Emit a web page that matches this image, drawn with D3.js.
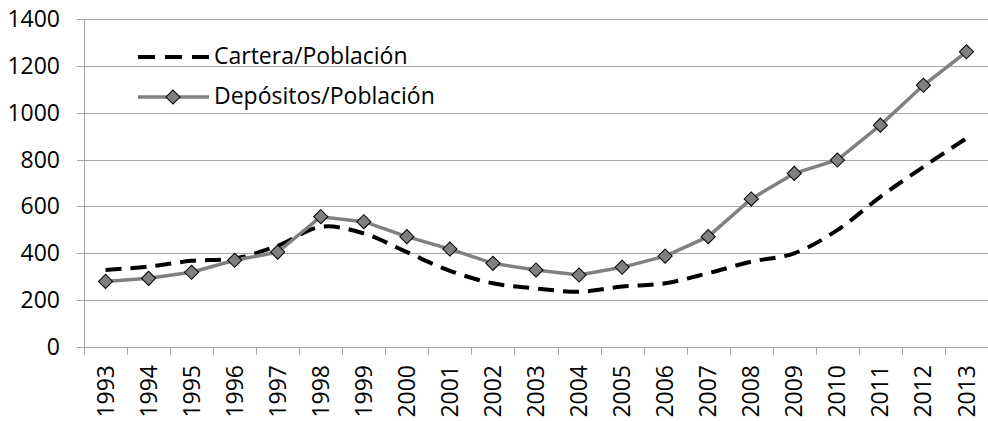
<!DOCTYPE html>
<html>
<head>
<meta charset="utf-8">
<script src="https://cdn.jsdelivr.net/npm/d3@7"></script>
<style>
body { margin: 0; background: #fff; }
text { font-family: "Open Sans", "Noto Sans", sans-serif; fill: #000; }
</style>
</head>
<body>
<div id="chart"></div>
<script>
var years = ["1993","1994","1995","1996","1997","1998","1999","2000","2001","2002","2003",
             "2004","2005","2006","2007","2008","2009","2010","2011","2012","2013"];
var cartera = [329, 343, 368, 378, 432, 513, 485, 405, 325, 272, 250,
               236, 258, 272, 315, 364, 400, 499, 641, 769, 891];
var depositos = [280, 293, 319, 370, 405, 556, 535, 471, 418, 357, 329,
                 307, 340, 388, 471, 632, 741, 798, 947, 1117, 1260];
var yTicks = [0, 200, 400, 600, 800, 1000, 1200, 1400];
var seriesNames = ["Cartera/Población", "Depósitos/Población"];

var width = 988, height = 421;
var margin = {top: 19, right: 0, bottom: 74, left: 84};
var w = width - margin.left - margin.right;
var h = height - margin.top - margin.bottom;
var fontSize = "23px";

var svg = d3.select("#chart").append("svg")
    .attr("width", width).attr("height", height);
var g = svg.append("g").attr("transform", "translate(" + margin.left + "," + margin.top + ")");

var x = d3.scaleBand().domain(years).range([0, w]);
var y = d3.scaleLinear().domain([0, 1400]).range([h, 0]);

// gridlines + y tick marks
g.append("g").selectAll("line").data(yTicks).enter().append("line")
    .attr("x1", -7).attr("x2", w)
    .attr("y1", function(d){ return Math.round(y(d)) + 0.5; })
    .attr("y2", function(d){ return Math.round(y(d)) + 0.5; })
    .attr("stroke", "#a6a6a6").attr("stroke-width", 1);

g.append("g").selectAll("text").data(yTicks).enter().append("text")
    .attr("x", -24).attr("y", function(d){ return y(d); })
    .attr("dy", "0.35em").attr("text-anchor", "end")
    .style("font-size", fontSize)
    .text(function(d){ return d; });

// y axis line
g.append("line").attr("x1", 0.5).attr("x2", 0.5).attr("y1", 0).attr("y2", h)
    .attr("stroke", "#a6a6a6");

// x tick marks at band edges
var edges = years.map(function(d){ return x(d); }).concat([w]);
g.append("g").selectAll("line").data(edges).enter().append("line")
    .attr("x1", function(d){ return Math.round(d) + 0.5; })
    .attr("x2", function(d){ return Math.round(d) + 0.5; })
    .attr("y1", h).attr("y2", h + 8)
    .attr("stroke", "#a6a6a6");

g.append("g").selectAll("text").data(years).enter().append("text")
    .attr("transform", function(d){
        return "translate(" + (x(d) + x.bandwidth() / 2) + "," + (h + 18) + ") rotate(-90)";
    })
    .attr("dy", "0.35em").attr("text-anchor", "end")
    .style("font-size", fontSize)
    .text(function(d){ return d; });

var cx = function(d, i){ return x(years[i]) + x.bandwidth() / 2; };

// Cartera dashed smooth line
var lineC = d3.line().x(cx).y(function(d){ return y(d); }).curve(d3.curveCatmullRom.alpha(0.5));
g.append("path").attr("d", lineC(cartera))
    .attr("fill", "none").attr("stroke", "#000").attr("stroke-width", 4)
    .attr("stroke-dasharray", "16,9");

// Depositos solid line with diamonds
var lineD = d3.line().x(cx).y(function(d){ return y(d); });
g.append("path").attr("d", lineD(depositos))
    .attr("fill", "none").attr("stroke", "#808080").attr("stroke-width", 3.5);

var diamond = d3.symbol().type(d3.symbolSquare).size(100);
g.append("g").selectAll("path").data(depositos).enter().append("path")
    .attr("d", diamond)
    .attr("transform", function(d, i){ return "translate(" + cx(d, i) + "," + y(d) + ") rotate(45)"; })
    .attr("fill", "#7f7f7f").attr("stroke", "#000").attr("stroke-width", 1);

// legend
var leg = svg.append("g");
leg.append("line").attr("x1", 138).attr("x2", 209).attr("y1", 57).attr("y2", 57)
    .attr("stroke", "#000").attr("stroke-width", 4).attr("stroke-dasharray", "17,10");
leg.append("text").attr("x", 214).attr("y", 56).attr("dy", "0.35em")
    .style("font-size", fontSize).text(seriesNames[0]);
leg.append("line").attr("x1", 138).attr("x2", 209).attr("y1", 97).attr("y2", 97)
    .attr("stroke", "#808080").attr("stroke-width", 3.5);
leg.append("path").attr("d", diamond)
    .attr("transform", "translate(173,97) rotate(45)")
    .attr("fill", "#7f7f7f").attr("stroke", "#000").attr("stroke-width", 1);
leg.append("text").attr("x", 214).attr("y", 96).attr("dy", "0.35em")
    .style("font-size", fontSize).text(seriesNames[1]);
</script>
</body>
</html>
